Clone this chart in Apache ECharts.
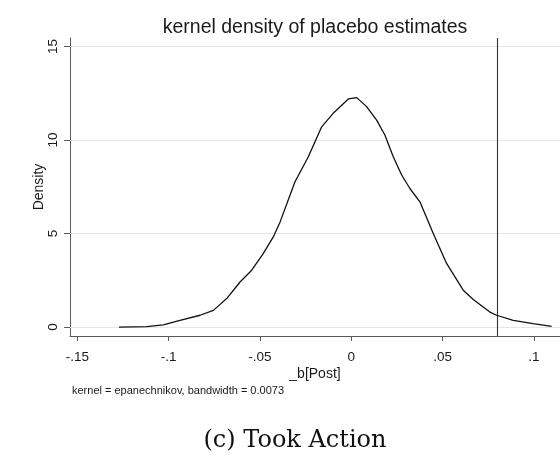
<!DOCTYPE html>
<html>
<head>
<meta charset="utf-8">
<script src="https://cdn.jsdelivr.net/npm/echarts@6/dist/echarts.min.js"></script>
<style>
  html, body { margin: 0; padding: 0; background: #ffffff; }
  #chart { width: 560px; height: 455px; }
</style>
</head>
<body>
<div id="chart"></div>
<script>
// ---- data ----
const estimateX = [-0.1272, -0.1120, -0.1029, -0.0938, -0.0828, -0.0755, -0.0682, -0.0609, -0.0545, -0.0482,
  -0.0427, -0.0390, -0.0308, -0.0235, -0.0162, -0.0099, -0.0016, 0.0030, 0.0084, 0.0139,
  0.0184, 0.0230, 0.0276, 0.0321, 0.0376, 0.0449, 0.0522, 0.0613, 0.0668, 0.0759,
  0.0796, 0.0887, 0.0996, 0.1097];
const densityY = [0.00, 0.02, 0.11, 0.36, 0.63, 0.89, 1.52, 2.41, 3.04, 3.93,
  4.82, 5.61, 7.77, 9.11, 10.71, 11.43, 12.20, 12.27, 11.79, 11.07,
  10.27, 9.11, 8.13, 7.41, 6.70, 5.00, 3.40, 1.97, 1.47, 0.80,
  0.63, 0.36, 0.18, 0.04];
const xTickValues = [-0.15, -0.10, -0.05, 0, 0.05, 0.10];
const xTickLabels = ['-.15', '-.1', '-.05', '0', '.05', '.1'];
const yTickValues = [0, 5, 10, 15];
const yTickLabels = ['0', '5', '10', '15'];
const actualEstimate = [0.08];
const titleText = 'kernel density of placebo estimates';
const xTitle = '_b[Post]';
const yTitle = 'Density';
const noteText = 'kernel = epanechnikov, bandwidth = 0.0073';
const captionText = '(c) Took Action';

const points = estimateX.map((x, i) => [x, densityY[i]]);

const chart = echarts.init(document.getElementById('chart'), null, { renderer: 'canvas' });
const axisColor = '#5a5a5a';
const textColor = '#1a1a1a';
const font = 'Liberation Sans, Arial, sans-serif';

chart.setOption({
  animation: false,
  backgroundColor: '#ffffff',
  grid: { left: 70, top: 38, right: 0, bottom: 119, containLabel: false },
  xAxis: {
    type: 'value',
    min: -0.154,
    max: 0.1143,
    name: xTitle,
    nameLocation: 'middle',
    nameGap: 31,
    nameMoveOverlap: false,
    nameTextStyle: { fontFamily: font, fontSize: 14, color: textColor },
    axisLine: { show: true, onZero: false, lineStyle: { color: axisColor, width: 1 } },
    axisTick: { show: true, length: 5, customValues: xTickValues, lineStyle: { color: axisColor } },
    axisLabel: {
      customValues: xTickValues,
      formatter: v => { const i = xTickValues.findIndex(t => Math.abs(t - v) < 1e-9); return i >= 0 ? xTickLabels[i] : ''; },
      fontFamily: font, fontSize: 13.5, color: textColor, margin: 14
    },
    splitLine: { show: false }
  },
  yAxis: {
    type: 'value',
    min: -0.48,
    max: 15.46,
    name: yTitle,
    nameLocation: 'middle',
    nameGap: 24,
    nameMoveOverlap: false,
    nameRotate: 90,
    nameTextStyle: { fontFamily: font, fontSize: 14, color: textColor },
    axisLine: { show: true, onZero: false, lineStyle: { color: axisColor, width: 1 } },
    axisTick: { show: true, length: 6, customValues: yTickValues, lineStyle: { color: axisColor } },
    axisLabel: {
      customValues: yTickValues,
      rotate: 90,
      formatter: v => { const i = yTickValues.findIndex(t => Math.abs(t - v) < 1e-9); return i >= 0 ? yTickLabels[i] : ''; },
      fontFamily: font, fontSize: 13.5, color: textColor, margin: 10
    },
    splitLine: { show: false }
  },
  series: [
    {
      type: 'line',
      data: points,
      z: 1,
      showSymbol: false,
      silent: true,
      lineStyle: { opacity: 0, width: 0 },
      markLine: {
        silent: true,
        symbol: ['none', 'none'],
        label: { show: false },
        lineStyle: { color: '#e6e6e6', width: 1, type: 'solid' },
        data: yTickValues.map(v => ({ yAxis: v }))
      }
    },
    {
      type: 'line',
      data: points,
      zlevel: 1,
      z: 3,
      showSymbol: false,
      smooth: false,
      lineStyle: { color: '#111111', width: 1.3 },
      markLine: {
        silent: true,
        symbol: ['none', 'none'],
        label: { show: false },
        lineStyle: { color: '#333333', width: 1.1, type: 'solid' },
        data: actualEstimate.map(v => ({ xAxis: v }))
      }
    }
  ],
  graphic: [
    {
      type: 'text', x: 315, y: 28,
      style: { text: titleText, align: 'center', verticalAlign: 'middle', fontFamily: font, fontSize: 19.5, fill: textColor }
    },
    {
      type: 'text', left: 72, top: 385,
      style: { text: noteText, fontFamily: font, fontSize: 11, fill: textColor }
    },
    {
      type: 'text', x: 295, y: 441,
      style: { text: captionText, align: 'center', verticalAlign: 'middle', fontFamily: 'DejaVu Serif, Liberation Serif, serif', fontSize: 24, fill: '#111111' }
    }
  ]
});
</script>
</body>
</html>
